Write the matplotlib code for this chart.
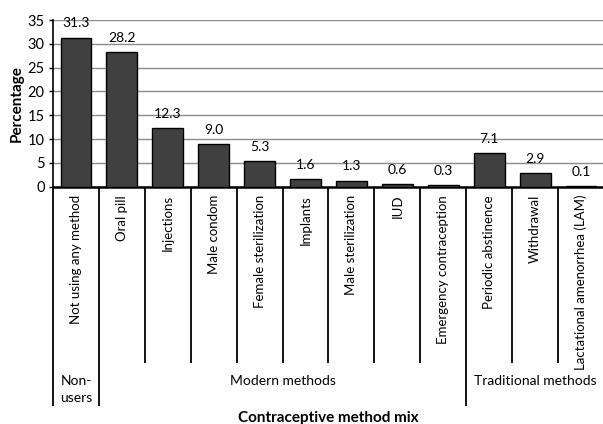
import matplotlib
matplotlib.use("Agg")
import matplotlib.pyplot as plt
from matplotlib.transforms import blended_transform_factory

categories = ["Not using any method", "Oral pill", "Injections", "Male condom",
              "Female sterilization", "Implants", "Male sterilization", "IUD",
              "Emergency contraception", "Periodic abstinence", "Withdrawal",
              "Lactational amenorrhea (LAM)"]
values = [31.3, 28.2, 12.3, 9.0, 5.3, 1.6, 1.3, 0.6, 0.3, 7.1, 2.9, 0.1]
groups = ["Non-\nusers", "Modern methods", "Traditional methods"]
group_sizes = [1, 8, 3]
y_ticks = [0, 5, 10, 15, 20, 25, 30, 35]

plt.rcParams['font.family'] = ['Lato', 'DejaVu Sans']

W, H = 603, 424
fig = plt.figure(figsize=(W/100, H/100), dpi=100)
left, right, top, bottom = 53, 604, 20, 186.7
ax = fig.add_axes([left/W, 1-bottom/H, (right-left)/W, (bottom-top)/H])

x = list(range(len(categories)))
ax.bar(x, values, width=0.67, color="#404040", edgecolor="black", linewidth=1.0, zorder=3)
for xi, v in zip(x, values):
    ax.annotate(f"{v:.1f}", (xi, v), xytext=(0, 6), textcoords="offset points",
                ha="center", va="bottom", fontsize=10, color="black")

ax.set_xlim(-0.5, len(categories)-0.5)
ax.set_ylim(0, 35)
ax.set_yticks(y_ticks)
ax.tick_params(axis="y", labelsize=10.5, length=3, width=1, direction="out", pad=3)
ax.yaxis.grid(True, color="#8c8c8c", linewidth=1.0, zorder=0)
ax.set_axisbelow(True)
for s in ["top", "right"]:
    ax.spines[s].set_visible(False)
ax.spines["left"].set_linewidth(1.2)
ax.spines["bottom"].set_linewidth(1.8)
ax.set_xticks([])
ax.set_ylabel("Percentage", fontsize=11, fontweight="bold", labelpad=3)

tr = blended_transform_factory(ax.transData, fig.transFigure)
def fy(p):
    return 1 - p/H

for xi, c in zip(x, categories):
    ax.text(xi, fy(195), c, transform=tr, rotation=90, ha="center", va="top", fontsize=9.5)

# separators
bounds = [-0.5]
acc = -0.5
for g in group_sizes:
    acc += g
    bounds.append(acc)
for b in [i - 0.5 for i in range(len(categories)+1)]:
    long = any(abs(b - bb) < 1e-9 for bb in bounds)
    ybot = 406 if long else 363
    ax.plot([b, b], [fy(bottom), fy(ybot)], transform=tr, color="black",
            linewidth=1.3, clip_on=False, solid_capstyle="butt")

start = -0.5
for g, n in zip(groups, group_sizes):
    center = start + n/2
    ax.text(center, fy(375), g, transform=tr, ha="center", va="top", fontsize=10,
            linespacing=1.5)
    start += n

fig.text((left+right)/2/W, fy(418), "Contraceptive method mix", ha="center",
         va="center", fontsize=11, fontweight="bold")

fig.savefig("out.png", dpi=100)
